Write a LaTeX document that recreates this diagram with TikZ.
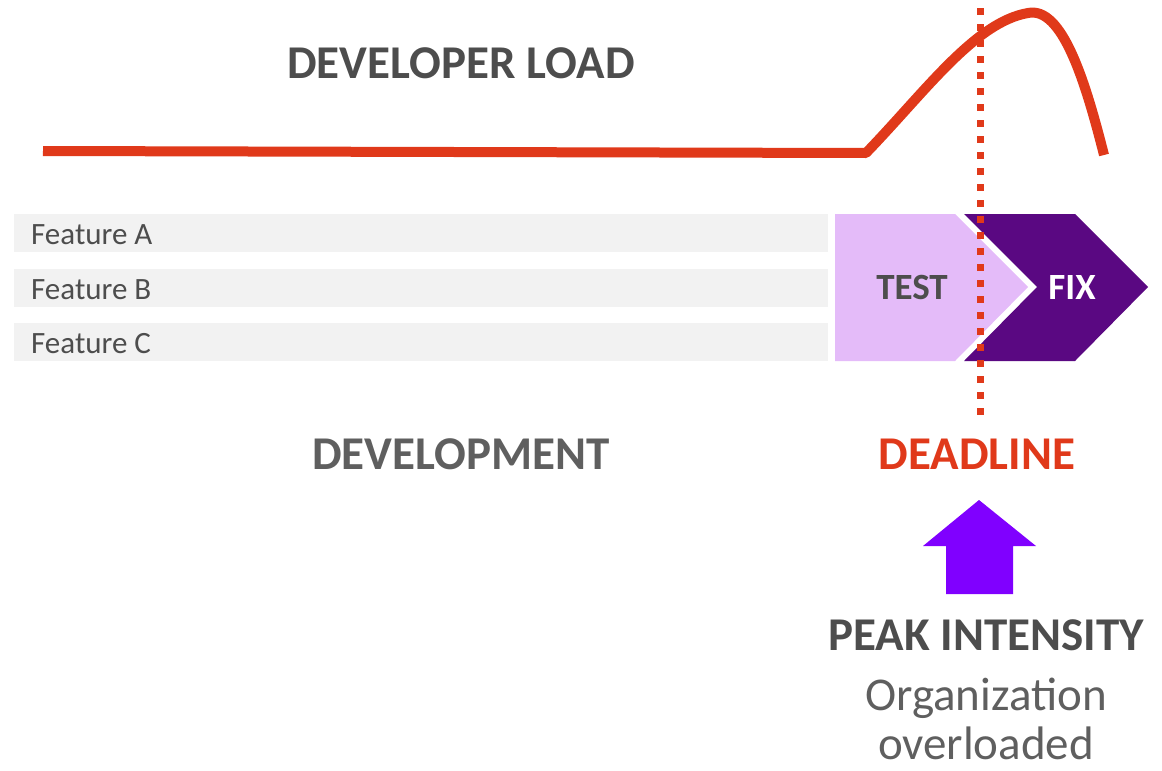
\documentclass[tikz,border=0pt]{standalone}
\usepackage{fontspec}
\setmainfont{Carlito}
\definecolor{loadred}{HTML}{E0391A}
\definecolor{bargray}{HTML}{F2F2F2}
\definecolor{txtdark}{HTML}{4D4D4D}
\definecolor{txtmid}{HTML}{5F5F5F}
\definecolor{testlilac}{HTML}{E4BBF9}
\definecolor{fixpurple}{HTML}{5A0882}
\definecolor{arrowviolet}{HTML}{8000FF}
\newcommand{\bigtxt}{\fontsize{47}{56}\selectfont}
\newcommand{\midtxt}{\fontsize{37}{44}\selectfont}
\newcommand{\smalltxt}{\fontsize{31}{37}\selectfont}
\tikzset{
  featbar/.style={fill=bargray, draw=none},
  featlabel/.style={anchor=base west, inner sep=0pt, text=txtdark, font=\smalltxt},
  headline/.style={anchor=base, inner sep=0pt, font=\bigtxt\bfseries},
  bodyline/.style={anchor=base, inner sep=0pt, font=\bigtxt, text=txtmid},
}
\begin{document}
\begin{tikzpicture}[x=1pt, y=-1pt]
\useasboundingbox (0,0) rectangle (1162,771);

% feature bars
\fill[featbar] (14,214) rectangle (828,252);
\fill[featbar] (14,269) rectangle (828,307);
\fill[featbar] (14,323) rectangle (828,361);
\node[featlabel] (fa) at (31,244) {Feature A};
\node[featlabel] (fb) at (31,299) {Feature B};
\node[featlabel] (fc) at (31,353) {Feature C};

% test and fix chevrons, separated by a thin white gap
\fill[testlilac] (835,214) -- (955,214) -- (1028,287) -- (955,361) -- (835,361) -- cycle;
\fill[fixpurple]
  (964,214) -- (1075,214) -- (1148,287) -- (1075,361) -- (964,361) -- (1037,287) -- cycle;
\node[anchor=base, inner sep=0pt, font=\midtxt\bfseries, text=txtdark] (test) at (912,299) {TEST};
\node[anchor=base, inner sep=0pt, font=\midtxt\bfseries, text=white] (fix) at (1072,299) {FIX};

% developer load curve
\coordinate (l0) at (43,151);
\coordinate (l1) at (866,153);
\coordinate (lpeak) at (1028,13);
\coordinate (lend) at (1104,155);
\draw[loadred, line width=10pt, line join=round]
  (l0) -- (l1) .. controls (925,92) and (975,22) .. (lpeak)
  .. controls (1062,6) and (1085,80) .. (lend);

% deadline marker
\coordinate (dtop) at (980,8);
\coordinate (dbot) at (980,416);
\draw[loadred, line width=7pt, dash pattern=on 7pt off 9pt] (dtop) -- (dbot);

% headings
\node[headline, text=txtdark] (devload) at (461,78) {DEVELOPER LOAD};
\node[headline, text=txtmid] (devel) at (461,469) {DEVELOPMENT};
\node[headline, text=loadred] (deadline) at (977,469) {DEADLINE};

% up arrow
\fill[arrowviolet] (979,500) -- (1036,546) -- (1013,546) -- (1013,594)
  -- (946,594) -- (946,546) -- (923,546) -- cycle;

\node[headline, text=txtdark] (peak) at (986,650) {PEAK INTENSITY};
\node[bodyline] (org) at (986,710) {Organization};
\node[bodyline] (over) at (986,759) {overloaded};
\end{tikzpicture}
\end{document}
